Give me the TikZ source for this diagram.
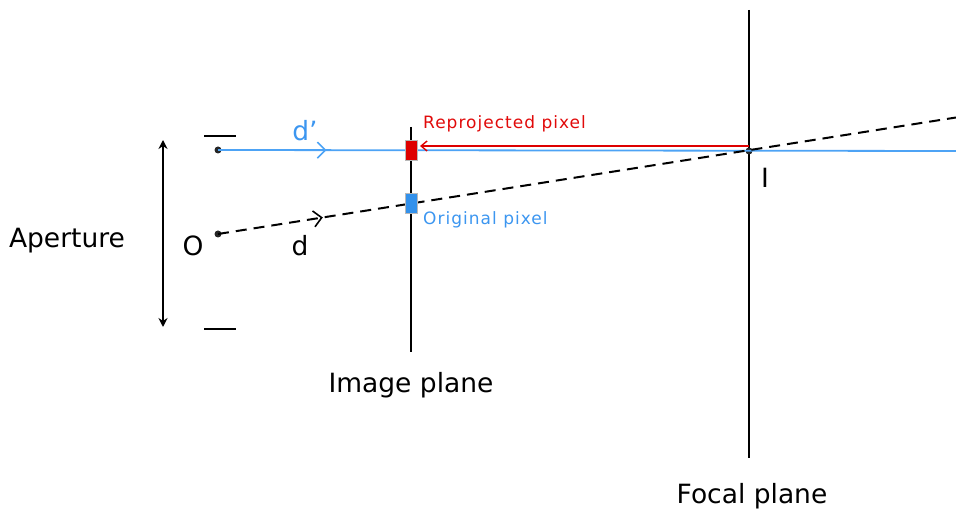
\documentclass[tikz,border=0pt]{standalone}
\usepackage{fontspec}
\setmainfont{DejaVu Sans}
\usetikzlibrary{arrows.meta,decorations.markings}
\definecolor{rayblue}{RGB}{77,163,245}
\definecolor{pixblue}{RGB}{51,145,235}
\definecolor{pixred}{RGB}{222,0,0}
\definecolor{txtred}{RGB}{225,10,10}
\definecolor{txtblue}{RGB}{60,150,240}
\begin{document}
\begin{tikzpicture}[x=1pt,y=-1pt,
  plane/.style={draw=black,line width=2pt},
  big/.style={font=\fontsize{26.5}{30}\selectfont,text=black,inner sep=0pt},
  small/.style={font=\fontsize{17}{20}\selectfont\addfontfeature{LetterSpace=6},inner sep=0pt},
  pix/.style={draw=gray!55,line width=1pt,minimum width=12pt,minimum height=20pt,inner sep=0pt},
  dotpt/.style={circle,fill=black!85,inner sep=0pt,minimum size=7pt},
  chev/.style={decoration={markings,mark=at position #1 with {\arrow{Straight Barb[length=8pt,width=16pt,line width=1.6pt]}}},postaction=decorate}
]
\useasboundingbox (0,0) rectangle (956,510);
% planes
\coordinate (ipt) at (411,127);
\coordinate (ipb) at (411,352);
\coordinate (fpt) at (749,10);
\coordinate (fpb) at (749,458);
\draw[plane] (ipt) -- (ipb);
\draw[plane] (fpt) -- (fpb);
\node[big,anchor=north] (iplab) at (411,372) {Image plane};
\node[big,anchor=north] (fplab) at (752,483) {Focal plane};
% aperture
\coordinate (at) at (163,140);
\coordinate (ab) at (163,327);
\draw[line width=2pt,{Stealth[length=9pt,width=9pt]}-{Stealth[length=9pt,width=9pt]}] (at) -- (ab);
\coordinate (b1l) at (204,136); \coordinate (b1r) at (236,136);
\coordinate (b2l) at (204,329); \coordinate (b2r) at (236,329);
\draw[line width=2pt] (b1l) -- (b1r);
\draw[line width=2pt] (b2l) -- (b2r);
\node[big] (aplab) at (67,241) {Aperture};
% points
\node[dotpt] (P) at (218,150) {};
\node[dotpt] (O) at (218,234) {};
\node[dotpt] (I) at (749,151) {};
\coordinate (bend) at (956,151);
\coordinate (dend) at (956,117.5);
% rays
\draw[rayblue,line width=1.8pt,chev=0.147] (P.center) -- (bend);
\draw[black,line width=2pt,dash pattern=on 11pt off 7pt,chev=0.142] (O.center) -- (dend);
% red reprojection
\coordinate (rs) at (749,146);
\coordinate (re) at (420,146);
\draw[pixred,line width=1.4pt,-{Straight Barb[length=6pt,width=10pt]}] (rs) -- (re);
% pixels
\node[pix,fill=pixred] (rp) at (411,150.5) {};
\node[pix,fill=pixblue] (op) at (411,203.5) {};
% labels
\node[small,text=txtred,anchor=base west] (rlab) at (423,129) {Reprojected pixel};
\node[small,text=txtblue,anchor=base west] (olab) at (423,225) {Original pixel};
\node[big,text=txtblue,anchor=base] (dplab) at (305,141) {d’};
\node[big,anchor=base] (dlab) at (300,256) {d};
\node[big,anchor=base] (Olab) at (193,256) {O};
\node[big,anchor=base] (Ilab) at (765,188) {I};
\end{tikzpicture}
\end{document}
